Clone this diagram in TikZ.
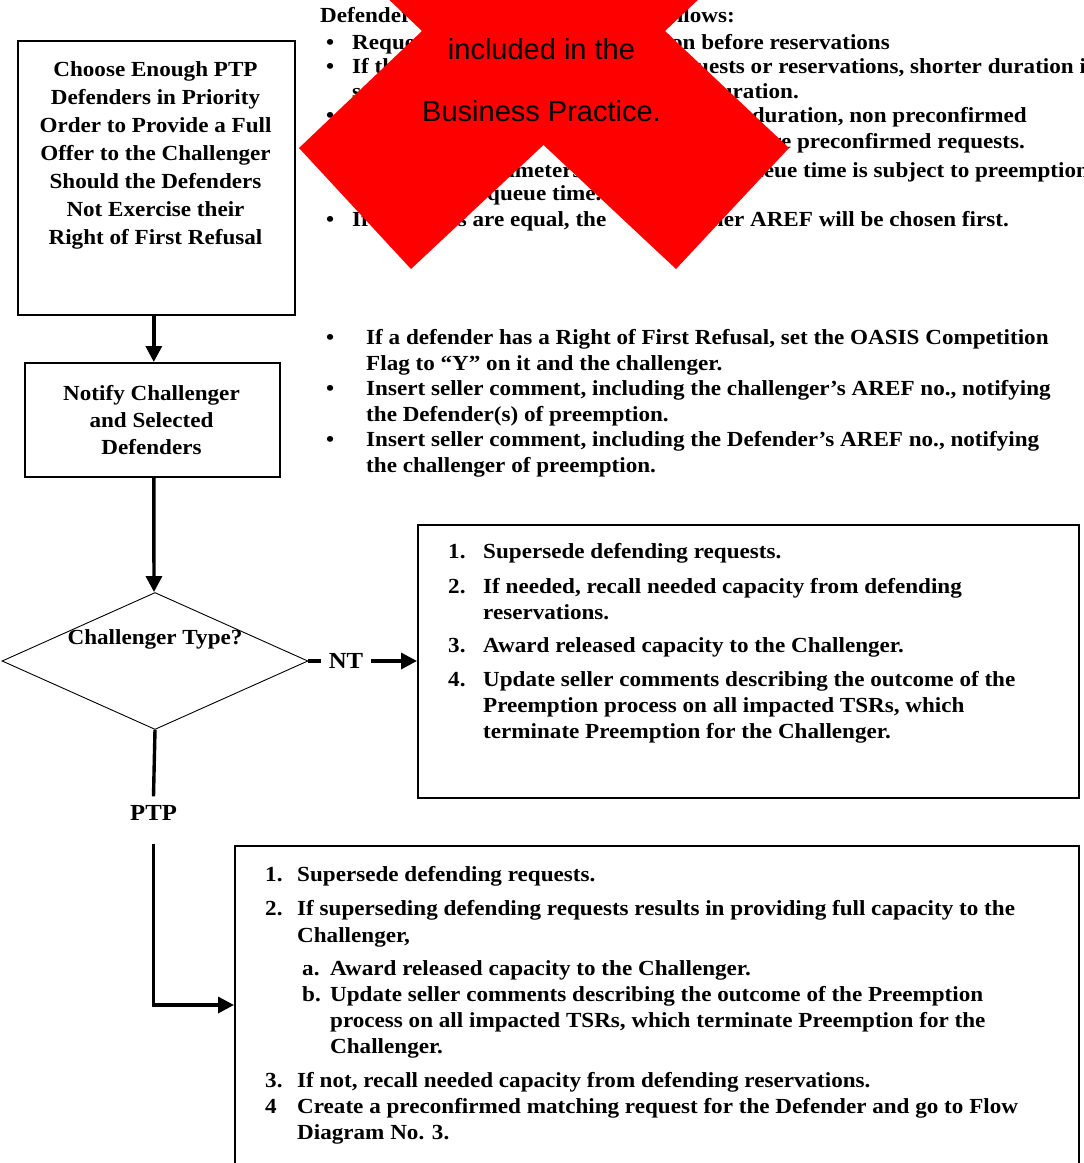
\documentclass[tikz,border=0pt]{standalone}
\usepackage{fontspec}
\setmainfont[FakeStretch=1.075]{Liberation Serif}
\newfontfamily\xsans{Liberation Sans}
\usetikzlibrary{arrows.meta,shapes.geometric}
\newcommand\bodyf{\fontsize{21.5}{26}\selectfont\bfseries}
\newcommand\tallf{\fontsize{21.5}{28}\selectfont\bfseries}
\newcommand\midf{\fontsize{21.5}{27}\selectfont\bfseries}
\newcommand\notef{\fontsize{21.5}{25.5}\selectfont\bfseries}
\newcommand\labf{\fontsize{23}{26}\selectfont\bfseries}
\newcommand\xtf{\xsans\fontsize{29}{62}\selectfont}
\begin{document}
\begin{tikzpicture}[x=1pt,y=-1pt,
  box/.style={draw=black,line width=1.6pt,inner sep=0pt,anchor=north west},
  flow/.style={line width=3.4pt,-{Triangle[length=16pt,width=16pt]}},
  plain/.style={line width=3.4pt},
  tl/.style={inner sep=0pt,anchor=base west,font=\bodyf},
  tle/.style={inner sep=0pt,anchor=base east,font=\bodyf},
  tln/.style={inner sep=0pt,anchor=north west,align=left,font=\bodyf},
]
\useasboundingbox (0,0) rectangle (1084,1163);
\clip (0,0) rectangle (1084,1163);
\fill[white] (0,0) rectangle (1084,1163);

% ---------- top text block (partly hidden) ----------
\node[tl] (t0a) at (320,22.5) {Defenders are};
\node[tle] (t0b) at (735,22.5) {follows:};
\node[tl] (u1) at (326,49) {•};
\node[tl] (t1a) at (352,49) {Requests};
\node[tle] (t1b) at (890,49) {of longer duration before reservations};
\node[tl] (u2) at (326,73) {•};
\node[tl] (t2a) at (352,73) {If the};
\node[tl] (t2b) at (663,73) {requests or reservations, shorter duration is};
\node[tl] (t3a) at (352,98) {s};
\node[tle] (t3b) at (799,98) {longer duration.};
\node[tl] (u4) at (326,122.5) {•};
\node[tle] (t4b) at (1027,122.5) {held duration, non preconfirmed};
\node[tle] (t5b) at (1025,148) {are preconfirmed requests.};
\node[tl] (u6) at (326,177.5) {•};
\node[tl] (t6a) at (468.5,177.5) {parameters};
\node[tl] (t6b) at (738,177.5) {queue time is subject to preemption};
\node[tl] (t7a) at (487,200.5) {queue time.};
\node[tl] (u8) at (326,226.5) {•};
\node[tl] (t8a) at (352,226.5) {If};
\node[tl] (t8b) at (414,226.5) {times are equal, the};
\node[tle] (t8c) at (1009,226.5) {higher AREF will be chosen first.};

% ---------- red X ----------
\fill[red] (422,31) -- (299,-86) -- (411,-207) -- (543.5,-83) -- (676,-207)
  -- (789,-86) -- (665,31) -- (789,148) -- (676,269) -- (543.5,145)
  -- (411,269) -- (299,148) -- cycle;
\node[font=\xtf,align=center,inner sep=0pt,anchor=north] (xnote) at (541.5,38.2)
  {included in the\\Business Practice.};

% ---------- left column ----------
\node[box,minimum width=277pt,minimum height=274pt] (choose) at (17,40) {};
\node[font=\tallf,align=center,inner sep=0pt,anchor=north] (choosetxt) at (155.5,61.3)
  {Choose Enough PTP\\Defenders in Priority\\Order to Provide a Full\\Offer to the Challenger\\Should the Defenders\\Not Exercise their\\Right of First Refusal};

\node[box,minimum width=255pt,minimum height=114pt] (notify) at (24,362) {};
\node[font=\midf,align=center,inner sep=0pt,anchor=north] (notifytxt) at (151.5,384.8)
  {Notify Challenger\\and Selected\\Defenders};

\node[diamond,draw=black,line width=0.9pt,minimum width=306pt,minimum height=137pt,inner sep=0pt] (dec) at (155,661) {};
\node[font=\bodyf,inner sep=0pt] (dectxt) at (155,639) {Challenger Type?};

\draw[flow] ([xshift=-2.5pt]choose.south) -- ([xshift=1.5pt]notify.north);
\draw[flow] ([xshift=1.5pt]notify.south) -- ([xshift=-1pt]dec.north);

% ---------- NT branch ----------
\node[font=\labf,inner xsep=8pt,inner ysep=0pt] (nt) at (346,661) {NT};
\node[box,minimum width=661pt,minimum height=273pt] (ntbox) at (417,524) {};
\draw[plain] (dec.east) -- (nt.west);
\draw[flow] (nt.east) -- (nt.east -| ntbox.west);

\node[tl] (n1) at (448,558) {1.};
\node[tl] (n1t) at (483,558) {Supersede defending requests.};
\node[tl] (n2) at (448,593) {2.};
\node[tln] (n2t) at (483,578.3) {If needed, recall needed capacity from defending\\reservations.};
\node[tl] (n3) at (448,652) {3.};
\node[tl] (n3t) at (483,652) {Award released capacity to the Challenger.};
\node[tl] (n4) at (448,686) {4.};
\node[tln] (n4t) at (483,671.3) {Update seller comments describing the outcome of the\\Preemption process on all impacted TSRs, which\\terminate Preemption for the Challenger.};

% ---------- PTP branch ----------
\node[font=\labf,inner sep=0pt] (ptp) at (153.5,813) {PTP};
\node[box,minimum width=844pt,minimum height=330pt] (ptpbox) at (234,845) {};
\coordinate (ptpin) at (234,1005);
\draw[plain] (dec.south) -- ([yshift=9pt]ptp.north);
\draw[flow] ([yshift=-23pt]ptp.south) |- (ptpin);

\node[tl] (p1) at (265,881) {1.};
\node[tl] (p1t) at (297,881) {Supersede defending requests.};
\node[tl] (p2) at (265,915) {2.};
\node[tln,font=\midf] (p2t) at (297,900.3) {If superseding defending requests results in providing full capacity to the\\Challenger,};
\node[tl] (pa) at (302,975) {a.};
\node[tl] (pat) at (330,975) {Award released capacity to the Challenger.};
\node[tl] (pb) at (302,1001) {b.};
\node[tln] (pbt) at (330,986.3) {Update seller comments describing the outcome of the Preemption\\process on all impacted TSRs, which terminate Preemption for the\\Challenger.};
\node[tl] (p3) at (265,1087) {3.};
\node[tl] (p3t) at (297,1087) {If not, recall needed capacity from defending reservations.};
\node[tl] (p4) at (265,1113) {4};
\node[tln] (p4t) at (297,1098.3) {Create a preconfirmed matching request for the Defender and go to Flow\\Diagram No. 3.};

% ---------- notes between ----------
\node[tl] (r1) at (326,344) {•};
\node[tln,font=\notef] (r1t) at (366,329.3) {If a defender has a Right of First Refusal, set the OASIS Competition\\Flag to “Y” on it and the challenger.};
\node[tl] (r2) at (326,395) {•};
\node[tln,font=\notef] (r2t) at (366,380.3) {Insert seller comment, including the challenger’s AREF no., notifying\\the Defender(s) of preemption.};
\node[tl] (r3) at (326,446) {•};
\node[tln,font=\notef] (r3t) at (366,431.3) {Insert seller comment, including the Defender’s AREF no., notifying\\the challenger of preemption.};
\end{tikzpicture}
\end{document}
